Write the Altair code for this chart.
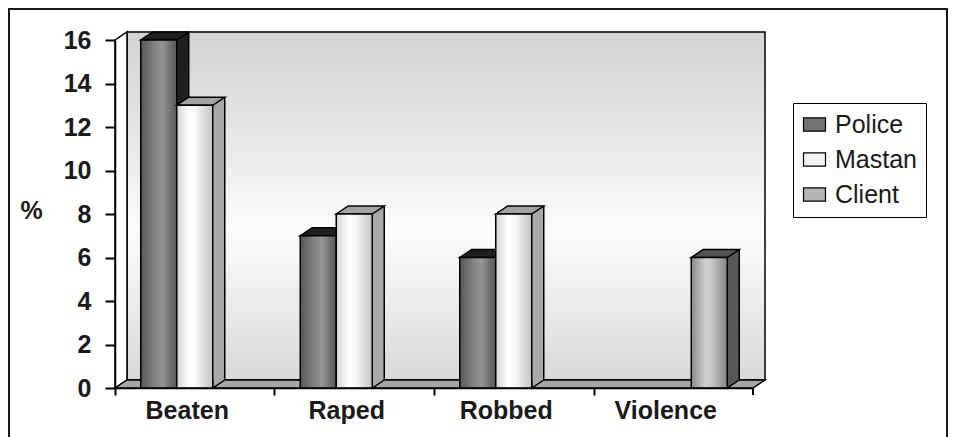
import altair as alt
import pandas as pd

# ---- data ----
categories = ["Beaten", "Raped", "Robbed", "Violence"]
series_names = ["Police", "Mastan", "Client"]
police = [16, 7, 6, 0]
mastan = [13, 8, 8, 0]
client = [0, 0, 0, 6]
y_ticks = [0, 2, 4, 6, 8, 10, 12, 14, 16]

rows = []
for s, vals in zip(series_names, [police, mastan, client]):
    for c, v in zip(categories, vals):
        if v > 0:
            rows.append({"category": c, "series": s, "value": v, "zero": 0})
df = pd.DataFrame(rows)
one = pd.DataFrame({"d": [0]})

# ---- geometry / style ----
W, H = 638, 348
DX, DY = 12, 8
BW = 36
FONT = "Liberation Sans"


def grad_h(stops):
    return alt.LinearGradient(gradient="linear", x1=0, x2=1, y1=0, y2=0,
                              stops=[alt.GradientStop(offset=o, color=c) for o, c in stops])


def grad_v(stops):
    return alt.LinearGradient(gradient="linear", x1=0, x2=0, y1=0, y2=1,
                              stops=[alt.GradientStop(offset=o, color=c) for o, c in stops])


styles = {
    "Police": dict(front=grad_h([(0, "#565656"), (0.35, "#7e7e7e"), (0.6, "#959595"), (0.85, "#6c6c6c"), (1, "#585858")]),
                   top="#1f1f1f", side="#1f1f1f"),
    "Mastan": dict(front=grad_h([(0, "#d2d2d2"), (0.35, "#ffffff"), (0.55, "#f6f6f6"), (0.8, "#d8d8d8"), (1, "#c4c4c4")]),
                   top="#a3a3a3", side="#a9a9a9"),
    "Client": dict(front=grad_h([(0, "#8a8a8a"), (0.4, "#d0d0d0"), (0.6, "#c4c4c4"), (0.85, "#9a9a9a"), (1, "#888888")]),
                   top="#555555", side="#575757"),
}
legend_colors = ["#747474", "#f2f2f2", "#b4b4b4"]

x_enc = alt.X("category:N",
              scale=alt.Scale(domain=categories, paddingInner=0.3229, paddingOuter=0.1614),
              axis=alt.Axis(title=None, labelAngle=0, labelFontSize=25, labelFontWeight="bold",
                            labelColor="#1a1a1a", tickSize=7, tickWidth=2, tickColor="black",
                            bandPosition=0.5, tickOffset=-79.75, labelOffset=71.75, labelPadding=3,
                            domainColor="black", domainWidth=1.5, zindex=1))
y_scale = alt.Scale(domain=[0, 16], nice=False)
y_axis = alt.Axis(values=y_ticks, title="%", titleAngle=0, titleX=-84, titleY=170,
                  titleFontSize=25, titleFontWeight="bold", titleAlign="center", titleBaseline="middle",
                  titleColor="#1a1a1a", labelFontSize=25, labelFontWeight="bold", labelColor="#1a1a1a",
                  tickSize=10, tickWidth=2, tickColor="black", labelPadding=14, grid=False,
                  domainColor="black", domainWidth=1.5, zindex=1)


def yv(field):
    return alt.Y(field, scale=y_scale, axis=y_axis)


def series_layers(i, s):
    st = styles[s]
    o = (i - 1) * BW  # slot offset of this series inside its category group
    base = alt.Chart(df).transform_filter(alt.datum.series == s)
    depth = base.mark_bar(color=st["side"], width=BW, xOffset=o + DX, yOffset=-DY, y2Offset=-DY,
                          strokeWidth=0).encode(x=x_enc, y=yv("value:Q"), y2="zero:Q")
    edge = base.mark_rule(color="black", strokeWidth=1.5, xOffset=o + BW / 2 + DX, yOffset=-DY,
                          y2Offset=-DY).encode(x=x_enc, y=yv("value:Q"), y2="zero:Q")
    tri = base.mark_point(shape="M18,-8 L18,0 L30,-8", size=4, filled=True, fill=st["side"],
                          stroke="black", strokeWidth=1.5, opacity=1, xOffset=o).encode(
        x=x_enc, y=yv("zero:Q"))
    top = base.mark_point(shape="M-18,0 L18,0 L30,-8 L-6,-8 Z", size=4, filled=True, fill=st["top"],
                          stroke="black", strokeWidth=1.5, opacity=1, xOffset=o).encode(
        x=x_enc, y=yv("value:Q"))
    front = base.mark_bar(color=st["front"], width=BW, xOffset=o, stroke="black", strokeWidth=1.5).encode(
        x=x_enc, y=yv("value:Q"), y2="zero:Q")
    return [depth, edge, tri, top, front]


# ---- decorations (frame, walls, floor) ----
border = alt.Chart(one).mark_rect(fillOpacity=0, stroke="#1a1a1a", strokeWidth=2).encode(
    x=alt.value(-106), x2=alt.value(832), y=alt.value(-31), y2=alt.value(420))
back_wall = alt.Chart(one).mark_rect(
    color=grad_v([(0, "#d2d3d5"), (0.3, "#e6e7e8"), (0.57, "#fcfcfc"), (0.75, "#eeeeee"), (1, "#d9d9d9")]),
    stroke="black", strokeWidth=1.5).encode(
    x=alt.value(DX), x2=alt.value(W + DX), y=alt.value(-DY), y2=alt.value(H - DY))
left_wall = alt.Chart(one).mark_point(shape="M0,0 L12,-8 L12,340 L0,348 Z", size=4, filled=True,
                                      fill="white", stroke="black", strokeWidth=1.5, opacity=1).encode(
    x=alt.value(0), y=alt.value(0))
floor = alt.Chart(one).mark_point(shape="M0,8 L638,8 L650,0 L12,0 Z", size=4, filled=True,
                                  fill="#a7a7a7", stroke="black", strokeWidth=1.5, opacity=1).encode(
    x=alt.value(0), y=alt.value(H - DY))
last_tick = alt.Chart(one).mark_rule(color="black", strokeWidth=2).encode(
    x=alt.value(W), y=alt.value(H), y2=alt.value(H + 7))

legend_layer = alt.Chart(df).transform_filter("false").mark_bar().encode(
    x=x_enc, y=yv("value:Q"),
    color=alt.Color("series:N", scale=alt.Scale(domain=series_names, range=legend_colors),
                    legend=alt.Legend(title=None, orient="none", legendX=678, legendY=63,
                                      direction="vertical", fillColor="white", strokeColor="black",
                                      padding=9, rowPadding=9,
                                      symbolType="M-1,-0.6H1V0.6H-1Z", symbolSize=484,
                                      symbolStrokeColor="black", symbolStrokeWidth=1.2,
                                      symbolOpacity=1, labelFontSize=25, labelColor="#1a1a1a",
                                      labelOffset=8)))

layers = [border, back_wall, left_wall, floor]
for i, s in enumerate(series_names):
    layers += series_layers(i, s)
layers += [last_tick, legend_layer]

chart = alt.layer(*layers).properties(
    width=W, height=H,
    padding={"left": 107, "top": 32, "right": 195, "bottom": 49},
    autosize=alt.AutoSizeParams(type="none"),
    background="white",
).configure_view(stroke=None).configure_axis(labelFont=FONT, titleFont=FONT).configure_legend(
    labelFont=FONT)

chart.save("out.html", embed_options={"renderer": "svg", "actions": False})
